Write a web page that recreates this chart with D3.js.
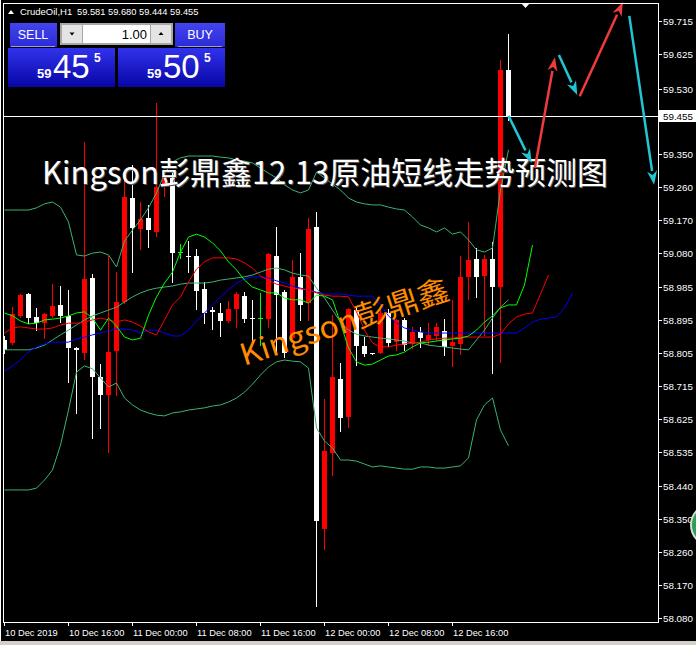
<!DOCTYPE html>
<html><head><meta charset="utf-8">
<script src="https://cdn.jsdelivr.net/npm/d3@7"></script>
<style>html,body{margin:0;padding:0;background:#000;overflow:hidden}</style>
</head><body>
<svg id="c" width="696" height="645"></svg>
<script>
// ---------- data ----------
const symbolName = "CrudeOil,H1";
const timeLabels = ["10 Dec 2019","10 Dec 16:00","11 Dec 00:00","11 Dec 08:00","11 Dec 16:00","12 Dec 00:00","12 Dec 08:00","12 Dec 16:00"];
const timeLabelBars = [0,8,16,24,32,40,48,56];
const priceTicks = ["59.715","59.625","59.530","59.350","59.260","59.170","59.080","58.985","58.895","58.805","58.715","58.625","58.535","58.440","58.350","58.260","58.170","58.080"];
const bidPrice = 59.455;

const open = [58.841,58.833,58.907,58.967,58.904,58.887,58.907,58.937,58.907,58.819,
58.805,59.011,58.740,58.690,58.811,58.945,59.230,59.145,59.175,59.137,
59.260,59.285,59.082,59.071,59.071,58.981,58.923,58.915,58.893,58.926,
58.961,58.901,58.901,58.898,59.071,58.972,58.846,59.014,58.942,59.151,
58.323,58.531,58.734,58.630,58.923,58.824,58.805,58.805,58.915,58.835,
58.896,58.830,58.863,58.841,58.852,58.866,58.824,58.830,59.014,59.063,
59.016,59.063,58.986,59.581];
const high = [58.852,58.931,58.967,58.970,58.929,58.915,58.994,58.989,58.978,58.822,
59.383,59.022,58.775,59.071,59.027,59.285,59.320,59.219,59.211,59.490,
59.298,59.301,59.104,59.112,59.090,59.000,58.931,58.942,58.948,58.972,
58.972,58.951,58.970,59.079,59.151,58.978,59.060,59.079,59.175,59.192,
58.679,58.909,58.778,58.928,58.934,58.849,58.806,58.923,58.926,58.898,
58.901,58.877,58.877,58.887,58.887,58.898,58.951,59.071,59.164,59.093,
59.074,59.109,59.608,59.680];
const low = [58.805,58.831,58.905,58.887,58.868,58.846,58.904,58.890,58.726,58.641,
58.789,58.572,58.600,58.534,58.690,58.942,59.027,59.090,59.096,59.126,
59.235,59.000,59.066,59.027,58.926,58.887,58.871,58.852,58.891,58.877,
58.890,58.835,58.827,58.877,58.805,58.794,58.844,58.896,58.896,58.112,
58.268,58.471,58.592,58.603,58.772,58.797,58.802,58.804,58.824,58.814,
58.814,58.819,58.822,58.827,58.840,58.800,58.770,58.803,58.953,58.959,
58.855,58.750,58.781,59.444];
const close = [58.814,58.912,58.964,58.901,58.887,58.912,58.934,58.907,58.819,58.814,
59.008,58.740,58.690,58.808,58.945,59.233,59.148,59.172,59.142,59.260,
59.290,59.079,59.082,59.068,58.975,58.915,58.918,58.893,58.926,58.967,
58.898,58.898,58.901,59.077,58.964,58.805,59.014,58.937,59.145,58.345,
58.537,58.740,58.627,58.926,58.824,58.803,58.803,58.915,58.833,58.896,
58.827,58.863,58.846,58.855,58.877,58.822,58.835,59.014,59.060,59.014,
59.063,58.986,59.581,59.455];

const bbUpper = [59.197,59.197,59.197,59.197,59.203,59.214,59.219,59.205,59.164,59.074,
59.071,59.079,59.082,59.074,59.041,59.112,59.142,59.170,59.203,59.244,
59.296,59.329,59.340,59.345,59.345,59.345,59.345,59.342,59.340,59.334,
59.331,59.326,59.312,59.298,59.285,59.266,59.252,59.244,59.252,59.301,
59.285,59.268,59.252,59.230,59.219,59.214,59.211,59.211,59.205,59.200,
59.197,59.178,59.156,59.148,59.137,59.148,59.131,59.137,59.115,59.088,
59.082,59.093,59.252,59.362];
const bbMiddle = [58.814,58.814,58.814,58.814,58.819,58.827,58.841,58.855,58.868,58.882,
58.896,58.907,58.915,58.923,58.931,58.945,58.959,58.970,58.978,58.983,
58.986,58.989,58.994,58.997,58.997,58.997,59.000,59.005,59.008,59.011,
59.014,59.019,59.027,59.035,59.038,59.033,59.024,59.019,59.016,58.983,
58.956,58.923,58.890,58.868,58.857,58.852,58.849,58.846,58.844,58.841,
58.838,58.833,58.833,58.827,58.824,58.822,58.819,58.816,58.814,58.841,
58.868,58.901,58.931,58.951];
const bbLower = [58.430,58.430,58.430,58.430,58.435,58.457,58.485,58.553,58.649,58.753,
58.770,58.762,58.737,58.712,58.723,58.682,58.663,58.649,58.641,58.635,
58.633,58.641,58.644,58.649,58.652,58.655,58.660,58.663,58.671,58.682,
58.698,58.720,58.745,58.767,58.781,58.786,58.783,58.781,58.764,58.600,
58.564,58.545,58.512,58.512,58.509,58.501,58.493,58.496,58.493,58.490,
58.487,58.487,58.493,58.493,58.490,58.490,58.493,58.496,58.518,58.622,
58.663,58.682,58.594,58.551];

// Alligator lines (drawn shifted forward past the last bar)
const lips = [58.915,58.907,58.893,58.885,58.887,58.896,58.898,58.901,58.907,58.915,
58.918,58.901,58.868,58.901,58.879,58.849,58.841,58.846,58.909,58.959,
58.997,59.027,59.082,59.123,59.131,59.123,59.107,59.085,59.055,59.033,
59.005,58.986,58.978,58.970,58.970,58.956,58.951,58.951,58.942,58.964,
58.961,58.951,58.887,58.819,58.781,58.772,58.775,58.786,58.797,58.800,
58.808,58.822,58.833,58.835,58.838,58.841,58.844,58.846,58.852,58.868,
58.890,58.907,58.929,58.937,58.937,58.992,59.101];
const teeth = [58.860,58.874,58.877,58.874,58.871,58.871,58.874,58.882,58.887,58.887,
58.890,58.896,58.901,58.896,58.890,58.896,58.890,58.879,58.863,58.855,
58.896,58.937,58.959,59.000,59.035,59.055,59.066,59.066,59.066,59.063,
59.052,59.038,59.016,59.005,58.994,58.989,58.983,58.981,58.978,58.970,
58.964,58.961,58.961,58.959,58.918,58.868,58.833,58.822,58.822,58.827,
58.830,58.833,58.835,58.841,58.844,58.846,58.846,58.849,58.849,58.849,
58.849,58.849,58.857,58.885,58.904,58.912,58.915,58.967,59.019];
const jaw = [58.756,58.770,58.786,58.808,58.822,58.830,58.835,58.835,58.835,58.844,
58.849,58.855,58.860,58.866,58.871,58.871,58.868,58.860,58.868,58.868,
58.860,58.852,58.852,58.868,58.893,58.915,58.937,58.959,58.978,58.997,
59.008,59.014,59.014,59.011,59.003,58.997,58.989,58.983,58.978,58.972,
58.967,58.967,58.967,58.964,58.961,58.961,58.961,58.937,58.907,58.887,
58.874,58.868,58.863,58.860,58.860,58.860,58.860,58.860,58.860,58.860,
58.860,58.860,58.860,58.860,58.860,58.874,58.890,58.898,58.901,58.904,
58.929,58.970];

// hand-drawn forecast arrows: start/end in (bar, price)
const arrowFromBar   = [63.0, 66.3, 69.3, 71.9, 78.1];
const arrowFromPrice = [59.455, 59.312, 59.622, 59.509, 59.729];
const arrowToBar     = [65.9, 68.8, 71.6, 77.3, 81.2];
const arrowToPrice   = [59.326, 59.616, 59.512, 59.767, 59.266];
const arrowKind      = ["down","up","down","up","down"];

const titleText = "Kingson彭鼎鑫12.13原油短线走势预测图";
const watermarkText = "Kingson彭鼎鑫";
const sellPrice = ["59","45","5"];
const buyPrice = ["59","50","5"];
const lotSize = "1.00";

// ---------- drawing ----------
const W = 696, H = 645;
const PL = 3, PR = 658, PT = 3, PB = 622;
const svg = d3.select("#c");
const defs = svg.append("defs");
svg.append("rect").attr("width", W).attr("height", H).attr("fill", "#000");
svg.append("rect").attr("x", 0).attr("y", 641).attr("width", W).attr("height", 4).attr("fill", "#d4d0c8");

const x = d3.scaleLinear().domain([0, 80]).range([4.5, 644.5]);
const y = d3.scaleLinear().domain([58.080, 59.715]).range([617.7, 21]);

defs.append("clipPath").attr("id", "plot").append("rect")
  .attr("x", PL).attr("y", PT).attr("width", PR - PL).attr("height", PB - PT);

const plot = svg.append("g").attr("clip-path", "url(#plot)");

// candles
const bars = d3.range(open.length).map(i => ({i, o: open[i], h: high[i], l: low[i], c: close[i]}));
const col = d => d.c > d.o ? "#ff0000" : (d.c < d.o ? "#ffffff" : "#00ff00");
const cg = plot.append("g").attr("shape-rendering", "crispEdges");
cg.selectAll("line.w").data(bars).join("line")
  .attr("x1", d => Math.floor(x(d.i)) + 0.5).attr("x2", d => Math.floor(x(d.i)) + 0.5)
  .attr("y1", d => Math.round(y(d.h))).attr("y2", d => Math.round(y(d.l)) + 1)
  .attr("stroke", col).attr("stroke-width", 1);
cg.selectAll("rect.b").data(bars).join("rect")
  .attr("x", d => Math.floor(x(d.i)) - 2)
  .attr("width", 5)
  .attr("y", d => Math.round(y(Math.max(d.o, d.c))))
  .attr("height", d => Math.max(1, Math.round(y(Math.min(d.o, d.c))) - Math.round(y(Math.max(d.o, d.c)))))
  .attr("fill", col);

// indicator lines
const line = d3.line().x((v, i) => x(i)).y(v => y(v));
const lg = plot.append("g").attr("fill", "none").attr("stroke-width", 1);
[[bbUpper, "#3cb371"], [bbMiddle, "#3cb371"], [bbLower, "#3cb371"],
 [jaw, "#0000ff"], [teeth, "#ff0000"], [lips, "#00ff00"]].forEach(([arr, c]) => {
  lg.append("path").attr("d", line(arr)).attr("stroke", c);
});

// bid line
svg.append("line").attr("x1", PL).attr("x2", PR)
  .attr("y1", Math.round(y(bidPrice)) + 0.5).attr("y2", Math.round(y(bidPrice)) + 0.5)
  .attr("stroke", "#fff").attr("shape-rendering", "crispEdges");

// title
const tx = 42, ty = 184;
svg.append("text").attr("x", tx + 1).attr("y", ty + 1).text(titleText)
  .attr("font-family", "'Noto Sans CJK SC','Noto Sans',sans-serif").attr("font-size", 31)
  .attr("textLength", 566).attr("lengthAdjust", "spacingAndGlyphs").attr("fill", "#555");
svg.append("text").attr("x", tx).attr("y", ty).text(titleText)
  .attr("font-family", "'Noto Sans CJK SC','Noto Sans',sans-serif").attr("font-size", 31)
  .attr("textLength", 566).attr("lengthAdjust", "spacingAndGlyphs").attr("fill", "#fff");

// watermark
svg.append("text").attr("transform", "translate(244,366) rotate(-18)").text(watermarkText)
  .attr("font-family", "'Noto Sans CJK SC','Noto Sans',sans-serif").attr("font-size", 30)
  .attr("textLength", 218).attr("lengthAdjust", "spacingAndGlyphs").attr("fill", "#ff8c00");

// forecast arrows
const ag = svg.append("g");
arrowFromBar.forEach((fb, k) => {
  const x1 = x(fb), y1 = y(arrowFromPrice[k]), x2 = x(arrowToBar[k]), y2 = y(arrowToPrice[k]);
  const c = arrowKind[k] === "up" ? "#ef3b3b" : "#22c5d3";
  const dx = x2 - x1, dy = y2 - y1, len = Math.hypot(dx, dy), ux = dx / len, uy = dy / len;
  const hl = 14, hw = 5;
  const bx = x2 - ux * hl, by = y2 - uy * hl;
  ag.append("line").attr("x1", x1).attr("y1", y1).attr("x2", bx).attr("y2", by)
    .attr("stroke", c).attr("stroke-width", 2.5);
  ag.append("polygon").attr("points",
    [[x2, y2], [bx - uy * hw, by + ux * hw], [x2 - ux * (hl - 4), y2 - uy * (hl - 4)], [bx + uy * hw, by - ux * hw]].map(p => p.join(",")).join(" "))
    .attr("fill", c);
});

// frame
const fg = svg.append("g").attr("shape-rendering", "crispEdges").attr("stroke", "#fff").attr("fill", "none");
fg.append("line").attr("x1", PL + 0.5).attr("x2", PL + 0.5).attr("y1", PT).attr("y2", PB + 1);
fg.append("line").attr("x1", 0.5).attr("x2", 0.5).attr("y1", 0).attr("y2", 641);
fg.append("line").attr("x1", PR + 0.5).attr("x2", PR + 0.5).attr("y1", PT).attr("y2", PB + 1);
fg.append("line").attr("x1", PL).attr("x2", PR + 1).attr("y1", PT + 0.5).attr("y2", PT + 0.5);
fg.append("line").attr("x1", PL).attr("x2", PR + 1).attr("y1", PB + 0.5).attr("y2", PB + 0.5);
svg.append("polygon").attr("points", "521,3 530,3 525.5,8").attr("fill", "#fff");

// right price axis
const axFont = "'Liberation Sans',Arial,sans-serif";
const pa = svg.append("g");
priceTicks.forEach(t => {
  const yy = Math.round(y(+t));
  pa.append("line").attr("x1", PR).attr("x2", PR + 4).attr("y1", yy + 0.5).attr("y2", yy + 0.5)
    .attr("stroke", "#fff").attr("shape-rendering", "crispEdges");
  pa.append("text").attr("x", 663).attr("y", yy + 4).text(t)
    .attr("font-family", axFont).attr("font-size", 9.8).attr("fill", "#fff");
});
const by0 = Math.round(y(bidPrice));
svg.append("rect").attr("x", 659).attr("y", by0 - 6).attr("width", 37).attr("height", 12).attr("fill", "#fff");
svg.append("text").attr("x", 663).attr("y", by0 + 4).text(bidPrice.toFixed(3))
  .attr("font-family", axFont).attr("font-size", 9.8).attr("fill", "#000");

// time axis
timeLabels.forEach((t, k) => {
  const xx = Math.floor(x(timeLabelBars[k])) + 0.5;
  svg.append("line").attr("x1", xx).attr("x2", xx).attr("y1", PB).attr("y2", PB + 4)
    .attr("stroke", "#fff").attr("shape-rendering", "crispEdges");
  svg.append("text").attr("x", xx + 0.5).attr("y", 636).text(t)
    .attr("font-family", axFont).attr("font-size", 9.3).attr("fill", "#fff");
});

// partial circle at right edge
svg.append("circle").attr("cx", 712).attr("cy", 525).attr("r", 21)
  .attr("fill", "#2f9e55").attr("stroke", "#d8d8d8").attr("stroke-width", 2);

// header
svg.append("polygon").attr("points", "8,14 14,14 11,10").attr("fill", "#fff");
svg.append("text").attr("x", 20).attr("y", 15).text(symbolName)
  .attr("font-family", axFont).attr("font-size", 9.5).attr("fill", "#fff");
[open[63], high[63], low[63], close[63]].forEach((v, k) => {
  svg.append("text").attr("x", 77 + k * 31).attr("y", 15).text(v.toFixed(3))
    .attr("font-family", axFont).attr("font-size", 9.3).attr("fill", "#fff");
});

// one-click trading panel
const gr = defs.append("linearGradient").attr("id", "pg").attr("x1", 0).attr("y1", 0).attr("x2", 0).attr("y2", 1);
gr.append("stop").attr("offset", "0%").attr("stop-color", "#3232ec");
gr.append("stop").attr("offset", "100%").attr("stop-color", "#0606a6");
const gb = defs.append("linearGradient").attr("id", "bg").attr("x1", 0).attr("y1", 0).attr("x2", 0).attr("y2", 1);
gb.append("stop").attr("offset", "0%").attr("stop-color", "#4444ee");
gb.append("stop").attr("offset", "100%").attr("stop-color", "#2a2ad8");

const pn = svg.append("g");
pn.append("rect").attr("x", 7).attr("y", 22).attr("width", 220).attr("height", 67).attr("fill", "#000");
pn.append("rect").attr("x", 10).attr("y", 23).attr("width", 47).attr("height", 24).attr("fill", "url(#bg)");
pn.append("rect").attr("x", 175).attr("y", 23).attr("width", 50).attr("height", 24).attr("fill", "url(#bg)");
pn.append("line").attr("x1", 11).attr("x2", 55).attr("y1", 46.5).attr("y2", 46.5).attr("stroke", "#9a9af0");
pn.append("line").attr("x1", 178).attr("x2", 222).attr("y1", 46.5).attr("y2", 46.5).attr("stroke", "#9a9af0");
const pf = "'Liberation Sans',Arial,sans-serif";
pn.append("text").attr("x", 33).attr("y", 39).attr("text-anchor", "middle").text("SELL")
  .attr("font-family", pf).attr("font-size", 12.5).attr("fill", "#fff");
pn.append("text").attr("x", 200).attr("y", 39).attr("text-anchor", "middle").text("BUY")
  .attr("font-family", pf).attr("font-size", 12.5).attr("fill", "#fff");
// spinner
pn.append("rect").attr("x", 60).attr("y", 23).attr("width", 113).attr("height", 22).attr("fill", "#a8a8a8");
pn.append("rect").attr("x", 62).attr("y", 25).attr("width", 20).attr("height", 18).attr("fill", "#e4e4e4");
pn.append("rect").attr("x", 151).attr("y", 25).attr("width", 20).attr("height", 18).attr("fill", "#e4e4e4");
pn.append("rect").attr("x", 83).attr("y", 25).attr("width", 67).attr("height", 18).attr("fill", "#fff");
pn.append("polygon").attr("points", "69.5,32.5 74.5,32.5 72,35.5").attr("fill", "#000");
pn.append("polygon").attr("points", "158.5,35 163.5,35 161,32").attr("fill", "#000");
pn.append("text").attr("x", 147).attr("y", 39).attr("text-anchor", "end").text(lotSize)
  .attr("font-family", pf).attr("font-size", 13).attr("fill", "#000");
// price panels
pn.append("rect").attr("x", 8).attr("y", 48).attr("width", 107).attr("height", 39).attr("fill", "url(#pg)");
pn.append("rect").attr("x", 118).attr("y", 48).attr("width", 107).attr("height", 39).attr("fill", "url(#pg)");
function priceParts(px, parts) {
  pn.append("text").attr("x", px).attr("y", 78).text(parts[0])
    .attr("font-family", pf).attr("font-size", 13).attr("font-weight", "bold").attr("fill", "#fff");
  pn.append("text").attr("x", px + 16).attr("y", 78).text(parts[1])
    .attr("font-family", pf).attr("font-size", 33).attr("fill", "#fff");
  pn.append("text").attr("x", px + 57).attr("y", 62).text(parts[2])
    .attr("font-family", pf).attr("font-size", 12).attr("font-weight", "bold").attr("fill", "#fff");
}
priceParts(37, sellPrice);
priceParts(147, buyPrice);
</script>
</body></html>
